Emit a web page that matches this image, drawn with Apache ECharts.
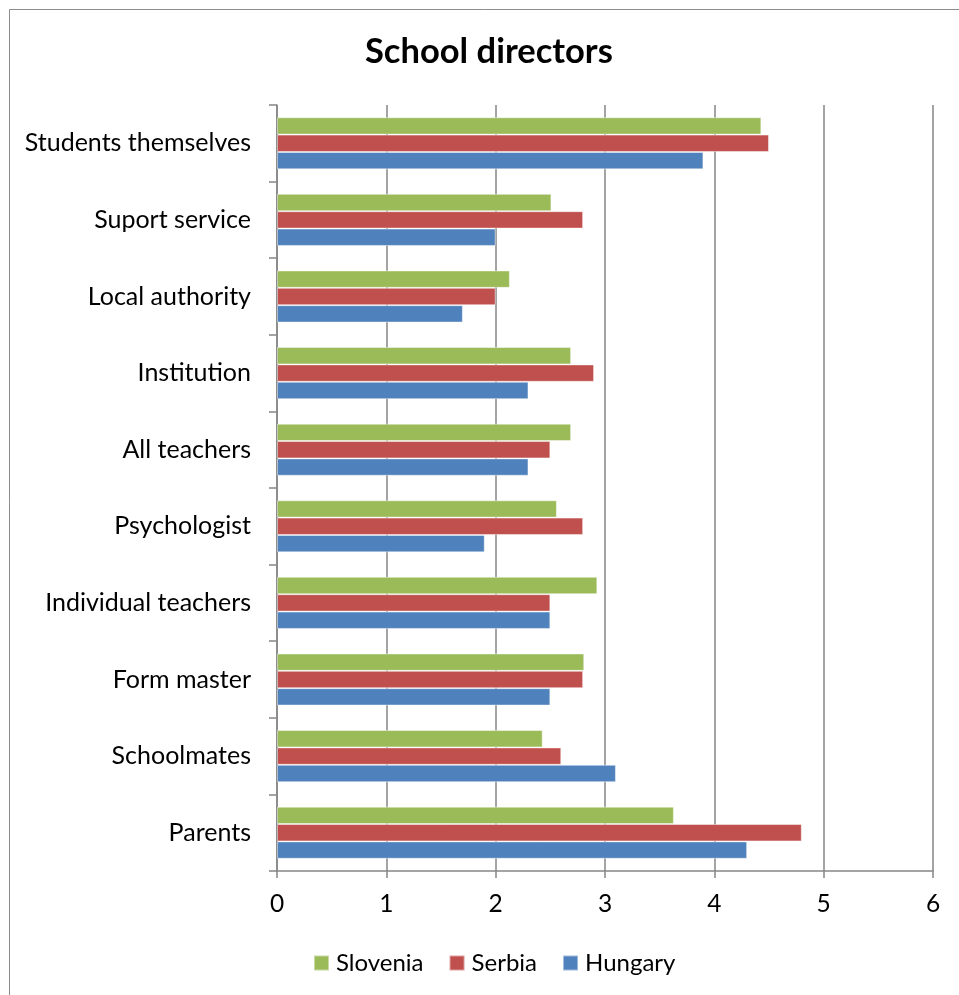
<!DOCTYPE html>
<html>
<head>
<meta charset="utf-8">
<script src="https://cdn.jsdelivr.net/npm/echarts@6/dist/echarts.min.js"></script>
<style>
  html, body { margin: 0; padding: 0; background: #fff; }
  #chart { width: 959px; height: 995px; }
</style>
</head>
<body>
<div id="chart"></div>
<script>
// Categories listed bottom to top along the vertical axis
const categories = [
  'Parents', 'Schoolmates', 'Form master', 'Individual teachers', 'Psychologist',
  'All teachers', 'Institution', 'Local authority', 'Suport service', 'Students themselves'
];
const hungary  = [4.3, 3.1, 2.5, 2.5, 1.9, 2.3, 2.3, 1.7, 2.0, 3.9];
const serbia   = [4.8, 2.6, 2.8, 2.5, 2.8, 2.5, 2.9, 2.0, 2.8, 4.5];
const slovenia = [3.63, 2.43, 2.81, 2.93, 2.56, 2.69, 2.69, 2.13, 2.51, 4.43];
const xTicks = [0, 1, 2, 3, 4, 5, 6];

const FONT = 'Lato, "Open Sans", sans-serif';
const AXIS_GREY = '#868686';

const chart = echarts.init(document.getElementById('chart'), null, { renderer: 'canvas' });

const barSeries = (name, data, color) => ({
  name, type: 'bar', data,
  barGap: '0%', barCategoryGap: '32%',
  itemStyle: { color, borderColor: 'rgba(255,255,255,0.45)', borderWidth: 1 },
  emphasis: { disabled: true }
});

chart.setOption({
  animation: false,
  backgroundColor: '#fff',
  graphic: [{
    type: 'rect', silent: true,
    shape: { x: 9.5, y: 9.5, width: 980, height: 1020 },
    style: { fill: 'none', stroke: '#8c8c8c', lineWidth: 1 }
  }],
  title: {
    text: 'School directors', left: 360, top: 29,
    textStyle: { fontFamily: FONT, fontWeight: 'bold', fontSize: 34.5, color: '#000' }
  },
  legend: {
    data: ['Slovenia', 'Serbia', 'Hungary'],
    left: 308, top: 946, itemWidth: 15, itemHeight: 15, itemGap: 25,
    icon: 'rect',
    textStyle: { fontFamily: FONT, fontSize: 24, color: '#000', padding: [0, 0, 0, 2] }
  },
  grid: { left: 277, right: 26, top: 105, bottom: 124, containLabel: false },
  xAxis: {
    type: 'value', min: xTicks[0], max: xTicks[xTicks.length - 1], interval: 1,
    axisLine: { show: true, lineStyle: { color: AXIS_GREY, width: 1.5 } },
    axisTick: { show: true, length: 7, lineStyle: { color: AXIS_GREY, width: 1.5 } },
    splitLine: { show: true, lineStyle: { color: AXIS_GREY, width: 1.5 } },
    axisLabel: { fontFamily: FONT, fontSize: 24.5, color: '#000', margin: 21 }
  },
  yAxis: {
    type: 'category', data: categories,
    axisLine: { show: true, lineStyle: { color: AXIS_GREY, width: 1.5 } },
    axisTick: { show: true, length: 8, alignWithLabel: false, lineStyle: { color: AXIS_GREY, width: 1.5 } },
    axisLabel: { fontFamily: FONT, fontSize: 25, color: '#000', margin: 26 }
  },
  // Slovenia is listed first so it sits on top within each category band
  series: [
    barSeries('Slovenia', slovenia, '#9BBB59'),
    barSeries('Serbia', serbia, '#C0504D'),
    barSeries('Hungary', hungary, '#4F81BD')
  ]
});
</script>
</body>
</html>
